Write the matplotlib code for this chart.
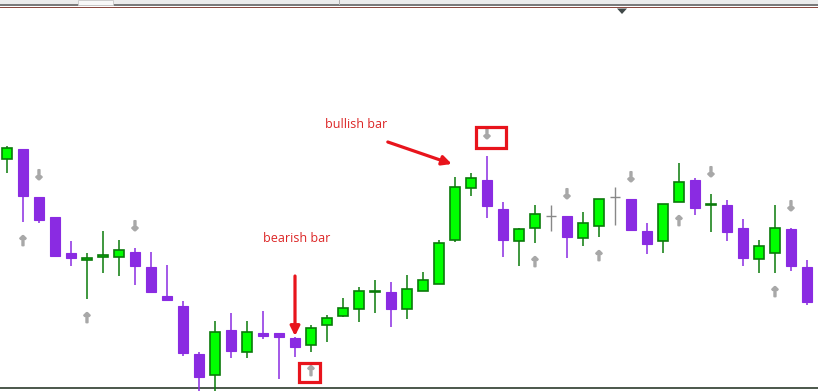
import matplotlib
matplotlib.use('Agg')
import matplotlib.pyplot as plt
import matplotlib.patheffects as pe
from matplotlib.patches import Rectangle, Polygon


# OHLC values (arbitrary price units)
opens = [241, 251, 203, 183, 147, 140, 143, 143, 148, 133, 104, 94, 46, 25, 70, 48, 67,
         67, 62, 55, 75, 84, 91, 108, 108, 91, 109, 116, 160, 212, 220, 191, 159, 172,
         184, 184, 162, 174, 203, 201, 169, 159, 198, 220, 195, 195, 172, 141, 147, 171, 133]
highs = [254, 251, 203, 183, 159, 147, 169, 160, 152, 148, 135, 99, 48, 79, 87, 79, 89,
         67, 63, 75, 85, 102, 113, 120, 118, 125, 128, 160, 223, 227, 244, 198, 172, 195,
         195, 184, 188, 201, 213, 201, 177, 196, 237, 222, 206, 200, 181, 160, 195, 172, 140]
lows = [227, 178, 177, 144, 134, 101, 127, 124, 115, 108, 100, 44, 6, 6, 42, 42, 61,
        21, 43, 48, 58, 83, 78, 87, 73, 81, 109, 116, 158, 204, 182, 143, 134, 157,
        169, 142, 154, 163, 175, 170, 146, 147, 198, 185, 168, 159, 134, 127, 127, 129, 95]
closes = [252, 204, 180, 144, 142, 142, 145, 150, 134, 108, 100, 47, 23, 68, 49, 68, 64,
          63, 53, 72, 82, 92, 109, 109, 91, 111, 120, 157, 213, 222, 194, 160, 171, 186,
          184, 163, 177, 201, 203, 170, 156, 196, 218, 192, 196, 168, 142, 154, 172, 134, 98]

# fractal markers
up_fractals = [1, 5, 19, 33, 37, 42, 48]
down_fractals = [2, 8, 30, 35, 39, 44, 49]

W, H = 818, 391
fig = plt.figure(figsize=(W / 100, H / 100), dpi=100)
ax = fig.add_axes([0, 0, 1, 1])
ax.set_xlim(-7 / 16, 811 / 16)
ax.set_ylim(400 - H, 400)
ax.axis('off')

bull_fill, bull_edge = '#00ff00', '#0a7a0a'
bear_fill = '#8a2be2'
doji_col = '#888888'
body_w = 0.66

for i in range(len(opens)):
    o, h, l, c = opens[i], highs[i], lows[i], closes[i]
    if o == c:
        ax.vlines(i, l, h, color=doji_col, lw=1.0, zorder=2)
        ax.hlines(o, i - body_w / 2, i + body_w / 2, color=doji_col, lw=1.0, zorder=3)
    elif c > o:
        ax.vlines(i, l, h, color=bull_edge, lw=1.1, zorder=2)
        ax.bar(i, c - o, bottom=o, width=body_w, color=bull_fill,
               edgecolor=bull_edge, linewidth=1.2, zorder=3)
    else:
        ax.vlines(i, l, h, color=bear_fill, lw=1.1, zorder=2)
        ax.bar(i, o - c, bottom=c, width=body_w, color=bear_fill,
               edgecolor=bear_fill, linewidth=0.8, zorder=3)

arrow_col = '#a8a8a8'
thick = [pe.withStroke(linewidth=1.3, foreground=arrow_col)]
for i in up_fractals:
    ax.text(i, lows[i] - 20, '\u2191', color=arrow_col, fontsize=9.5, fontweight='bold',
            ha='center', va='center', zorder=4, path_effects=thick)
for i in down_fractals:
    ax.text(i, highs[i] + 21, '\u2193', color=arrow_col, fontsize=9.5, fontweight='bold',
            ha='center', va='center', zorder=4, path_effects=thick)

# bottom border of the chart window
ax.axhline(12, color='#3d4a3d', lw=1.3, zorder=1)

# annotations
red = '#e8141c'
ax.text(21.8, 275, 'bullish bar', color='#dc2626', fontsize=9, family='Open Sans',
        ha='center', va='center')
ax.text(18.1, 162, 'bearish bar', color='#dc2626', fontsize=9, family='Open Sans',
        ha='center', va='center')
ax.annotate('', xy=(27.8, highs[28] + 13), xytext=(23.8, highs[28] + 35),
            arrowprops=dict(arrowstyle='-|>', color=red, lw=2.3, mutation_scale=14,
                            shrinkA=0, shrinkB=0))
ax.annotate('', xy=(18, highs[18] + 1), xytext=(18, highs[18] + 61),
            arrowprops=dict(arrowstyle='-|>', color=red, lw=2.3, mutation_scale=14,
                            shrinkA=0, shrinkB=0))
ax.add_patch(Rectangle((19 - 0.75, lows[19] - 20 - 9.5), 1.3, 19, fill=False,
                       edgecolor=red, lw=2.3, zorder=5))
ax.add_patch(Rectangle((30 - 0.69, highs[30] + 21 - 12.5), 1.875, 21, fill=False,
                       edgecolor=red, lw=2.3, zorder=5))

# terminal window header strip
fig.add_artist(Rectangle((0, 1 - 4.5 / H), 1, 4.5 / H, transform=fig.transFigure,
                         color='#ececec', lw=0))
fig.add_artist(Rectangle((0, 1 - 6 / H), 1, 1.6 / H, transform=fig.transFigure,
                         color='#7a7a7a', lw=0))
fig.add_artist(Rectangle((0, 1 - 8.2 / H), 1, 0.9 / H, transform=fig.transFigure,
                         color='#8a4a40', lw=0))
fig.add_artist(Rectangle((339 / W, 1 - 4.5 / H), 1 / W, 4.5 / H, transform=fig.transFigure,
                         color='#b0b0b0', lw=0))
fig.add_artist(Rectangle((78 / W, 1 - 4.5 / H), 35 / W, 4.5 / H, transform=fig.transFigure,
                         facecolor='#f8f8f8', edgecolor='#c8c8c8', lw=0.6))
fig.add_artist(Polygon([(617 / W, 1 - 8.5 / H), (627 / W, 1 - 8.5 / H), (622 / W, 1 - 14 / H)],
                       transform=fig.transFigure, color='#404848', lw=0))

fig.savefig('out.png', dpi=100)
